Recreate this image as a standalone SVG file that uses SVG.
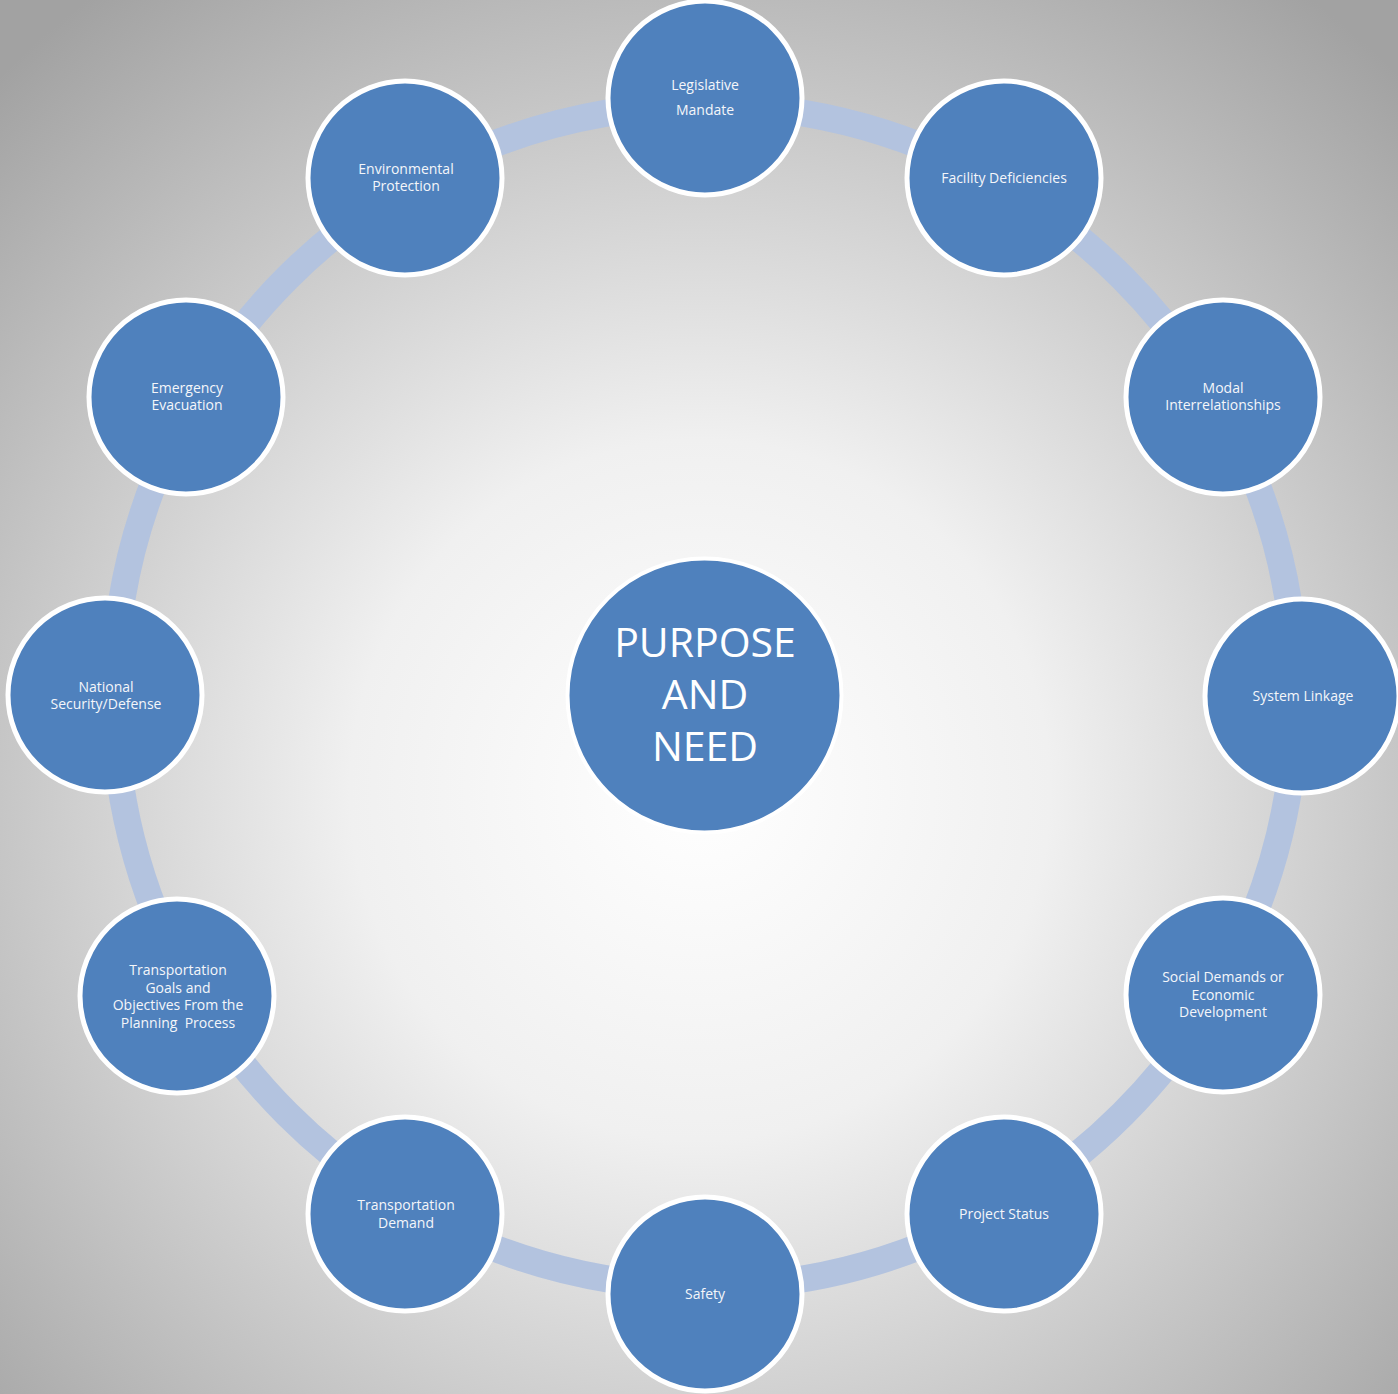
<svg xmlns="http://www.w3.org/2000/svg" width="1398" height="1394" viewBox="0 0 1398 1394">
<defs>
<radialGradient id="bg" gradientUnits="userSpaceOnUse" cx="700" cy="790" r="1000">
<stop offset="0" stop-color="#ffffff"/>
<stop offset="0.35" stop-color="#f0f0f0"/>
<stop offset="1" stop-color="#a2a2a2"/>
</radialGradient>
<style>
.node{fill:#4f81bd;stroke:#ffffff;stroke-width:5}
.center{fill:#4f81bd;stroke:#ffffff;stroke-width:4}
.t{font-family:"Open Sans","Liberation Sans",sans-serif;font-size:14px;fill:#f4f6fa;text-anchor:middle}
.ct{font-family:"Open Sans","Liberation Sans",sans-serif;font-size:41px;fill:#ffffff;text-anchor:middle}
.ring{fill:none;stroke:#b3c3df;stroke-width:27}
</style>
</defs>
<rect x="0" y="0" width="1398" height="1394" fill="url(#bg)"/>
<g id="connectors">
<circle class="ring" cx="705" cy="696" r="591"/>
</g>
<g id="node-center">
<circle class="center" cx="704.5" cy="695.5" r="137"/>
<text class="ct" x="705" y="657">PURPOSE</text>
<text class="ct" x="705" y="709">AND</text>
<text class="ct" x="705" y="761">NEED</text>
</g>
<g id="node-legislative">
<circle class="node" cx="705" cy="98" r="97"/>
<text class="t" x="705" y="90">Legislative</text>
<text class="t" x="705" y="115">Mandate</text>
</g>
<g id="node-facility">
<circle class="node" cx="1004" cy="178" r="97"/>
<text class="t" x="1004" y="183">Facility Deficiencies</text>
</g>
<g id="node-modal">
<circle class="node" cx="1223" cy="397" r="97"/>
<text class="t" x="1223" y="393">Modal</text>
<text class="t" x="1223" y="410">Interrelationships</text>
</g>
<g id="node-system">
<circle class="node" cx="1302" cy="696" r="97"/>
<text class="t" x="1303" y="701">System Linkage</text>
</g>
<g id="node-social">
<circle class="node" cx="1223" cy="995" r="97"/>
<text class="t" x="1223" y="982">Social Demands or</text>
<text class="t" x="1223" y="1000">Economic</text>
<text class="t" x="1223" y="1017">Development</text>
</g>
<g id="node-project">
<circle class="node" cx="1004" cy="1214" r="97"/>
<text class="t" x="1004" y="1219">Project Status</text>
</g>
<g id="node-safety">
<circle class="node" cx="705" cy="1294" r="97"/>
<text class="t" x="705" y="1299">Safety</text>
</g>
<g id="node-demand">
<circle class="node" cx="405" cy="1214" r="97"/>
<text class="t" x="406" y="1210">Transportation</text>
<text class="t" x="406" y="1228">Demand</text>
</g>
<g id="node-goals">
<circle class="node" cx="177" cy="996" r="97"/>
<text class="t" x="178" y="975">Transportation</text>
<text class="t" x="178" y="993">Goals and</text>
<text class="t" x="178" y="1010">Objectives From the</text>
<text class="t" x="178" y="1028" style="white-space:pre">Planning  Process</text>
</g>
<g id="node-national">
<circle class="node" cx="105" cy="695" r="97"/>
<text class="t" x="106" y="692">National</text>
<text class="t" x="106" y="709">Security/Defense</text>
</g>
<g id="node-emergency">
<circle class="node" cx="186" cy="397" r="97"/>
<text class="t" x="187" y="393">Emergency</text>
<text class="t" x="187" y="410">Evacuation</text>
</g>
<g id="node-environmental">
<circle class="node" cx="405" cy="178" r="97"/>
<text class="t" x="406" y="174">Environmental</text>
<text class="t" x="406" y="191">Protection</text>
</g>
</svg>
